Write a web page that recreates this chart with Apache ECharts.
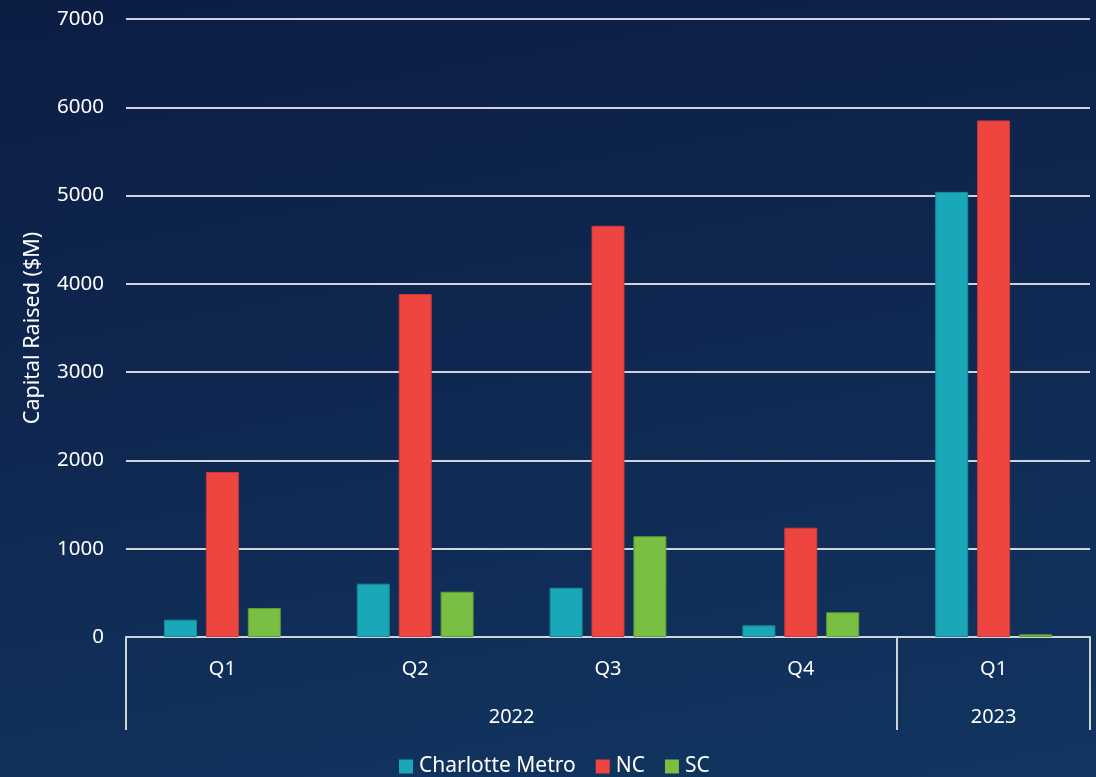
<!DOCTYPE html>
<html>
<head>
<meta charset="utf-8">
<script src="https://cdn.jsdelivr.net/npm/echarts@6/dist/echarts.min.js"></script>
<style>
  html, body { margin: 0; padding: 0; }
  #chart {
    width: 1096px; height: 777px;
    background: linear-gradient(170deg, #0c1d44 0%, #0f2750 45%, #113660 100%);
  }
</style>
</head>
<body>
<div id="chart"></div>
<script>
// data
const quarters = ["Q1", "Q2", "Q3", "Q4", "Q1"];
const years = ["2022", "2023"];
const charlotteMetro = [196, 604, 558, 132, 5042];
const nc = [1869, 3885, 4658, 1238, 5851];
const sc = [328, 513, 1141, 280, 30];

const font = "Noto Sans";
const lineGrey = "#d0d3d8";

const chart = echarts.init(document.getElementById("chart"));

// year labels sit under the quarter row: 2022 spans Q1..Q4, 2023 only Q1
const yearPos = { 2: years[0], 4.5: years[1] };

chart.setOption({
  backgroundColor: "transparent",
  textStyle: { fontFamily: font },
  grid: { left: 126, right: 6, top: 19, bottom: 140 },
  legend: {
    top: 751,
    left: 394,
    itemWidth: 14,
    itemHeight: 14,
    itemGap: 20,
    icon: "rect",
    itemStyle: { borderWidth: 0 },
    textStyle: { color: "#ffffff", fontSize: 21, fontFamily: font, padding: [0, 0, 0, 1] },
    data: ["Charlotte Metro", "NC", "SC"]
  },
  xAxis: [
    {
      type: "category",
      data: quarters,
      axisLine: { lineStyle: { color: lineGrey, width: 2 } },
      axisTick: { show: false },
      axisLabel: { color: "#ffffff", fontSize: 20, margin: 22 }
    },
    {
      type: "value",
      position: "bottom",
      min: 0,
      max: 5,
      interval: 0.5,
      axisLine: { show: false },
      splitLine: { show: false },
      axisTick: {
        show: true,
        customValues: [0, 4, 5],
        length: 93,
        lineStyle: { color: lineGrey, width: 2 }
      },
      axisLabel: {
        customValues: [2, 4.5],
        color: "#ffffff",
        fontSize: 20,
        margin: 70,
        formatter: v => yearPos[v] || ""
      }
    }
  ],
  yAxis: {
    type: "value",
    min: 0,
    max: 7000,
    interval: 1000,
    name: "Capital Raised ($M)",
    nameLocation: "middle",
    nameGap: 82,
    nameTextStyle: { color: "#ffffff", fontSize: 21.5 },
    axisLine: { show: false },
    axisTick: { show: false },
    axisLabel: { color: "#ffffff", fontSize: 20.5, margin: 22, formatter: v => String(v) },
    splitLine: { lineStyle: { color: lineGrey, width: 2 } }
  },
  series: [
    {
      name: "Charlotte Metro",
      type: "bar",
      data: charlotteMetro,
      barWidth: 33,
      barGap: "27%",
      itemStyle: { color: "#1aa7b8", borderColor: "#15899a", borderWidth: 1 }
    },
    {
      name: "NC",
      type: "bar",
      data: nc,
      barWidth: 33,
      barGap: "27%",
      itemStyle: { color: "#ef4540", borderColor: "#c93a3a", borderWidth: 1 }
    },
    {
      name: "SC",
      type: "bar",
      data: sc,
      barWidth: 33,
      barGap: "27%",
      itemStyle: { color: "#79bf43", borderColor: "#5f9e37", borderWidth: 1 }
    }
  ]
});
</script>
</body>
</html>
